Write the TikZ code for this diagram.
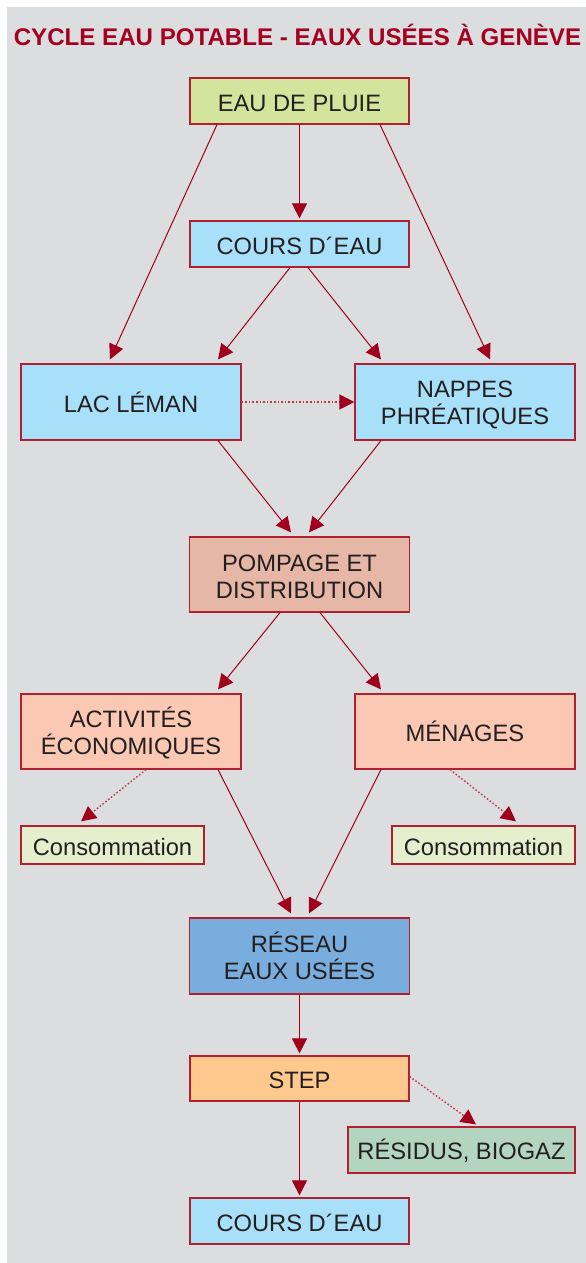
\documentclass[tikz,border=0pt]{standalone}
\usepackage{fontspec}
\setmainfont{Liberation Sans}
\usetikzlibrary{arrows.meta}
\definecolor{bg}{HTML}{DCDDDF}
\definecolor{titlecol}{HTML}{A50021}
\definecolor{bordercol}{HTML}{B02030}
\definecolor{arrcol}{HTML}{A0001C}
\definecolor{dotcol}{HTML}{B83A4A}
\definecolor{txt}{HTML}{231F20}
\definecolor{cpluie}{HTML}{D3E59C}
\definecolor{cblue}{HTML}{A8E0FA}
\definecolor{cpomp}{HTML}{E6B7A6}
\definecolor{csalmon}{HTML}{FBC9B3}
\definecolor{ccons}{HTML}{E5EFCD}
\definecolor{creseau}{HTML}{78ADDD}
\definecolor{cstep}{HTML}{FFC88C}
\definecolor{cresid}{HTML}{B3D5BF}
\newcommand{\st}{\rule[-3pt]{0pt}{26pt}}
\begin{document}
\begin{tikzpicture}[x=1pt,y=-1pt,
  box/.style={draw=bordercol,line width=1.2pt,inner sep=0pt,align=center,
    font=\fontsize{23.7}{27}\selectfont,text=txt},
  arr/.style={draw=arrcol,line width=1pt,-{Triangle[length=15pt,width=15pt]}},
  dotarr/.style={draw=dotcol,line width=1.4pt,dash pattern=on 1.6pt off 2pt,
    -{Triangle[length=15pt,width=15pt,color=arrcol]}}]
\useasboundingbox (0,0) rectangle (586,1263);
\fill[bg] (7,7) rectangle (586,1263);
\node[font=\bfseries\fontsize{24.1}{27}\selectfont,text=titlecol,inner sep=0pt] (title) at (297.5,35) {CYCLE EAU POTABLE - EAUX USÉES À GENÈVE};

\node[box,fill=cpluie,minimum width=219pt,minimum height=46pt] (pluie) at (299.5,101) {\st EAU DE PLUIE};
\node[box,fill=cblue,minimum width=219pt,minimum height=46pt] (cours1) at (299.5,244) {\st COURS D´EAU};
\node[box,fill=cblue,minimum width=220pt,minimum height=76pt] (lac) at (131,402) {\st LAC LÉMAN};
\node[box,fill=cblue,minimum width=220pt,minimum height=76pt] (nappes) at (465,402) {\st NAPPES\\\st PHRÉATIQUES};
\node[box,fill=cpomp,minimum width=220pt,minimum height=75pt] (pompage) at (299.5,574.5) {\st POMPAGE ET\\\st DISTRIBUTION};
\node[box,fill=csalmon,minimum width=220pt,minimum height=75pt] (activ) at (131,731.5) {\st ACTIVITÉS\\\st ÉCONOMIQUES};
\node[box,fill=csalmon,minimum width=220pt,minimum height=75pt] (menages) at (465,731.5) {\st MÉNAGES};
\node[box,fill=ccons,minimum width=183pt,minimum height=38pt] (cons1) at (112.5,845) {\st Consommation};
\node[box,fill=ccons,minimum width=183pt,minimum height=38pt] (cons2) at (483.5,845) {\st Consommation};
\node[box,fill=creseau,minimum width=220pt,minimum height=76pt] (reseau) at (299.5,956) {\st RÉSEAU\\\st EAUX USÉES};
\node[box,fill=cstep,minimum width=219pt,minimum height=45pt] (step) at (299.5,1078.5) {\st STEP};
\node[box,fill=cresid,minimum width=227pt,minimum height=46pt] (residus) at (461.5,1150) {\st RÉSIDUS, BIOGAZ};
\node[box,fill=cblue,minimum width=219pt,minimum height=46pt] (cours2) at (299.5,1221) {\st COURS D´EAU};

\draw[arr] ([xshift=-82.5pt]pluie.south) -- ([xshift=-21pt,yshift=4pt]lac.north);
\draw[arr] (pluie.south) -- ([yshift=2pt]cours1.north);
\draw[arr] ([xshift=80.5pt]pluie.south) -- ([xshift=25pt,yshift=4pt]nappes.north);
\draw[arr] ([xshift=-9.5pt]cours1.south) -- ([xshift=87pt,yshift=4pt]lac.north);
\draw[arr] ([xshift=8.5pt]cours1.south) -- ([xshift=-84pt,yshift=4pt]nappes.north);
\draw[dotarr] (lac.east) -- (nappes.west);
\draw[arr] ([xshift=87pt]lac.south) -- ([xshift=-8.5pt,yshift=4pt]pompage.north);
\draw[arr] ([xshift=-84pt]nappes.south) -- ([xshift=9.5pt,yshift=4pt]pompage.north);
\draw[arr] ([xshift=-19.5pt]pompage.south) -- ([xshift=87pt,yshift=4pt]activ.north);
\draw[arr] ([xshift=20.5pt]pompage.south) -- ([xshift=-84pt,yshift=4pt]menages.north);
\draw[dotarr] ([xshift=15pt]activ.south) -- ([xshift=-31.5pt,yshift=4pt]cons1.north);
\draw[dotarr] ([xshift=-15pt]menages.south) -- ([xshift=32.5pt,yshift=4pt]cons2.north);
\draw[arr] ([xshift=87pt]activ.south) -- ([xshift=-8.5pt,yshift=4pt]reseau.north);
\draw[arr] ([xshift=-84pt]menages.south) -- ([xshift=9.5pt,yshift=4pt]reseau.north);
\draw[arr] (reseau.south) -- ([yshift=2pt]step.north);
\draw[dotarr] ([yshift=2pt]step.east) -- ([xshift=14.5pt,yshift=2pt]residus.north);
\draw[arr] (step.south) -- ([yshift=2pt]cours2.north);
\end{tikzpicture}
\end{document}
